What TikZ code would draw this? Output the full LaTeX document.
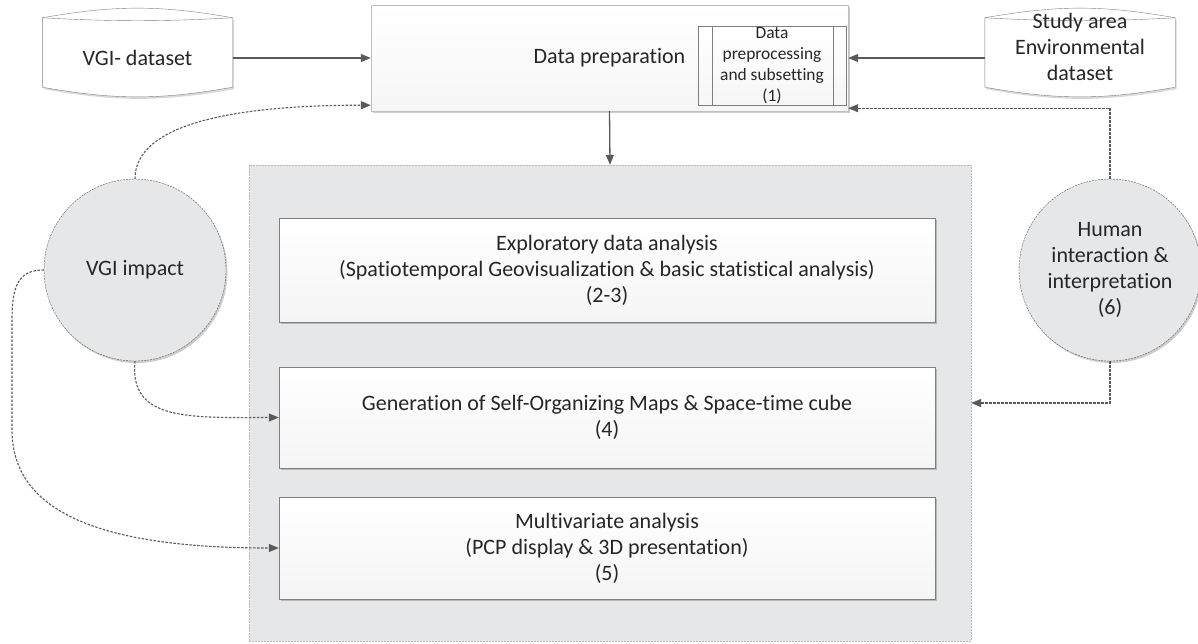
\documentclass[tikz,border=0pt]{standalone}
\usepackage{fontspec}
\setmainfont{Carlito}[Ligatures=NoCommon]
\usetikzlibrary{arrows.meta,shadows,backgrounds}
\definecolor{boxgray}{RGB}{230,231,232}
\definecolor{linegray}{RGB}{89,89,89}
\definecolor{framegray}{RGB}{127,127,127}
\definecolor{textgray}{RGB}{38,38,38}

% Umriss Datenspeicher (Knoten, Verschiebung)
\newcommand{\storeoutline}[2]{%
  \draw[storeline] ([yshift={-10pt+(#2)}]#1.north west) to[bend left=10] ([yshift={-10pt+(#2)}]#1.north east)
    -- ([yshift={10pt+(#2)}]#1.south east) to[bend left=10] ([yshift={10pt+(#2)}]#1.south west) -- cycle;
  \draw[framegray] ([yshift={-10pt+(#2)}]#1.north west) to[bend right=3] ([yshift={-10pt+(#2)}]#1.north east);}

\begin{document}
\begin{tikzpicture}[x=1pt, y=-1pt, >={Triangle[length=10pt,width=8pt]}, font=\fontsize{22}{26}\selectfont, text=textgray,
    shadowed/.style={drop shadow={shadow xshift=1.5pt, shadow yshift=-2pt, opacity=0.2, fill=black}},
    procbox/.style={draw=framegray, top color=white, bottom color=gray!8, shadowed, minimum width=656pt, align=center, inner sep=0pt},
    store/.style={minimum width=190pt, minimum height=89pt, inner sep=0pt, align=center},
    storeline/.style={draw=framegray, fill=white, preaction={fill=black, opacity=0.15, transform canvas={shift={(1.5pt,-2pt)}}}},
    bubble/.style={circle, draw=linegray, dash pattern=on 2pt off 1pt, fill=boxgray, shadowed, minimum size=182pt, inner sep=0pt, align=center},
    flow/.style={->, draw=linegray, line width=1.3pt},
    dotflow/.style={->, draw=linegray, line width=1.1pt, dash pattern=on 2.5pt off 1.5pt}]
  \useasboundingbox (0,0) rectangle (1198,643);
  % Rahmen Analyse
  \node[draw=gray!55, dash pattern=on 2pt off 1pt, fill=boxgray, minimum width=722pt, minimum height=476pt, inner sep=0pt] (cont) at (610,403) {};
  % Analyseschritte
  \node[procbox, minimum height=104pt] (eda) at (607,270) {Exploratory data analysis\\(Spatiotemporal Geovisualization \& basic statistical analysis)\\(2-3)};
  \node[procbox, minimum height=101pt] (som) at (607,417.5) {Generation of Self-Organizing Maps \& Space-time cube\\(4)};
  \node[procbox, minimum height=102pt] (mva) at (607,548) {Multivariate analysis\\(PCP display \& 3D presentation)\\(5)};
  % Datenvorbereitung
  \node[draw=gray!50, top color=white, bottom color=gray!7, shadowed, minimum width=477pt, minimum height=106pt, inner sep=0pt] (prep) at (609.5,58) {Data preparation};
  \node[draw=framegray, top color=white, bottom color=gray!7, minimum width=148pt, minimum height=79pt, inner sep=0pt, align=center, font=\fontsize{17.4}{21}\selectfont] (sub) at (772,65.5) {Data\\preprocessing\\and subsetting\\(1)};
  \draw[framegray] ([xshift=14pt]sub.north west) -- ([xshift=14pt]sub.south west);
  \draw[framegray] ([xshift=-13pt]sub.north east) -- ([xshift=-13pt]sub.south east);
  % Datenquellen
  \node[store] (vgids) at (137.5,58) {VGI- dataset};
  \node[store] (study) at (1080,47) {Study area\\Environmental\\dataset};
  \begin{pgfonlayer}{background}
    \storeoutline{vgids}{5.5pt}
    \storeoutline{study}{-5.5pt}
  \end{pgfonlayer}
  % Kreise
  \node[bubble] (impact) at (135,270) {VGI impact};
  \node[bubble] (human) at (1110,270) {Human\\interaction \&\\interpretation\\(6)};
  % Pfeile
  \draw[flow] (vgids.east) -- (prep.west);
  \draw[flow] (study.west |- prep.east) -- (prep.east);
  \draw[flow] (prep.south) -- (cont.north);
  % gestrichelte Verbindungen
  \draw[dotflow] (impact.north) .. controls +(0,-54) and +(-140,0) .. ([yshift=6pt]prep.south west);
  \draw[dotflow] (impact.south) .. controls +(-6,60) and +(-90,0) .. (som.west);
  \draw[dotflow] (impact.west) .. controls +(-25,0) and +(0,-35) .. (12,320) -- (12,430) .. controls +(0,90) and +(-160,0) .. (mva.west);
  \draw[dotflow] (human.south) |- (cont.east);
  \draw[dotflow] (human.north) |- ([yshift=3pt]prep.south east);
\end{tikzpicture}
\end{document}
